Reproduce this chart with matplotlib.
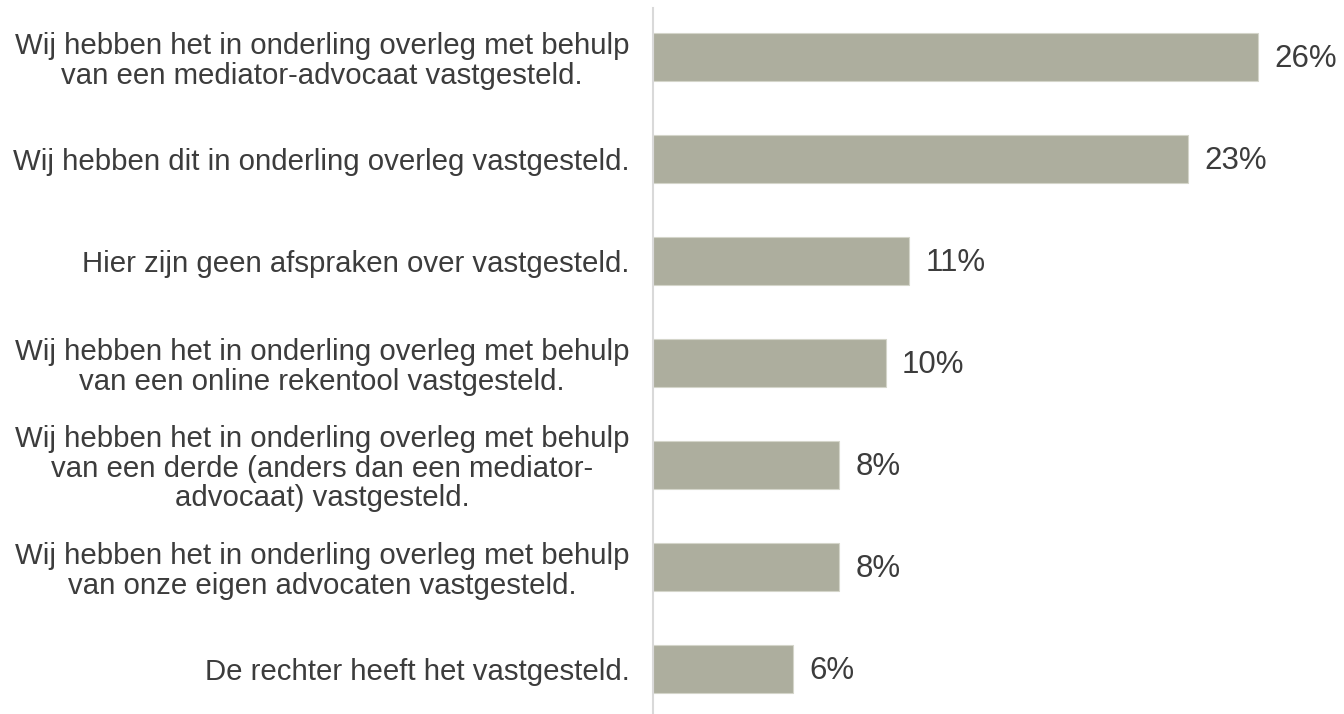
import numpy as np
import matplotlib.pyplot as plt

# data
labels = [
    "Wij hebben het in onderling overleg met behulp\nvan een mediator-advocaat vastgesteld.",
    "Wij hebben dit in onderling overleg vastgesteld.",
    "Hier zijn geen afspraken over vastgesteld.",
    "Wij hebben het in onderling overleg met behulp\nvan een online rekentool vastgesteld.",
    "Wij hebben het in onderling overleg met behulp\nvan een derde (anders dan een mediator-\nadvocaat) vastgesteld.",
    "Wij hebben het in onderling overleg met behulp\nvan onze eigen advocaten vastgesteld.",
    "De rechter heeft het vastgesteld.",
]
values = [26, 23, 11, 10, 8, 8, 6]

plt.rcParams['font.family'] = ['Liberation Sans', 'DejaVu Sans']
text_color = '#3c3c3c'
bar_color = '#adae9e'

W, H = 1344, 714
fig = plt.figure(figsize=(W / 100, H / 100), dpi=100)
# axes placed in pixel terms: spine at x=653, from y=8 to bottom
ax = fig.add_axes([653 / W, 0, (W - 653) / W, (H - 8) / H])

y = np.arange(len(values))
ax.barh(y, values, height=0.47, color=bar_color, edgecolor='#d4d5ca', linewidth=0.8)

for yi, v in zip(y, values):
    ax.text(v + 0.7, yi + 0.02, f"{v}%", va='center', ha='left', fontsize=22.5, color=text_color)

ax.set_xlim(0, 691 / 23.27)
ax.set_ylim(6.44, -0.48)

ax.set_yticks(y)
ax.set_yticklabels(labels, fontsize=21.2, color=text_color, multialignment='center', linespacing=1.07)
ax.tick_params(axis='y', length=0, pad=17)
ax.set_xticks([])

for s in ['top', 'right', 'bottom']:
    ax.spines[s].set_visible(False)
ax.spines['left'].set_color('#d9d9d9')
ax.spines['left'].set_linewidth(1.5)

fig.savefig('out.png', dpi=100)
